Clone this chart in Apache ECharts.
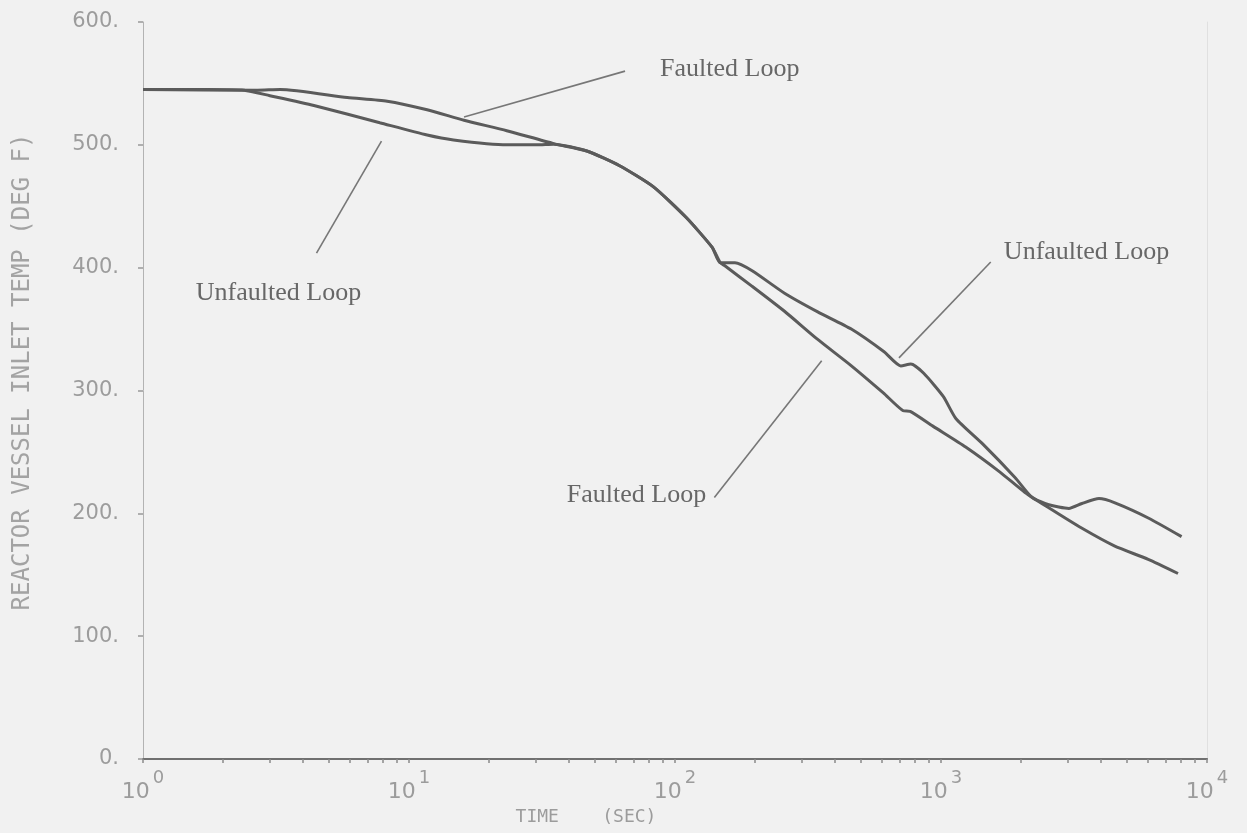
<!DOCTYPE html>
<html>
<head>
<meta charset="utf-8">
<script src="https://cdn.jsdelivr.net/npm/echarts@6/dist/echarts.min.js"></script>
<style>
html,body{margin:0;padding:0;background:#f1f1f1;}
#chart{width:1247px;height:833px;}
</style>
</head>
<body>
<div id="chart"></div>
<script>
// ---- data ----
const unfaultedTime = [1, 1.74, 2.4, 3.0, 4.39, 7.77, 11.7, 14.7, 23.3, 30.2, 35.0, 46.6, 61.9, 82.8, 110, 138, 148, 168, 195, 259, 344, 460, 611, 706, 770, 861, 1021, 1139, 1434, 1901, 2198, 2542, 3024, 3388, 3926, 4508, 6040, 8025];
const unfaultedTemp = [545, 545, 544.5, 540, 532, 518, 508, 504, 500, 500, 500.5, 495, 483, 466, 441, 416.5, 404, 404, 397.5, 379, 364, 350, 331.5, 320, 321.5, 314, 295, 277, 256.5, 229, 213, 207, 204, 208, 212, 208.5, 196, 181];

const faultedTime = [1, 2.69, 3.28, 5.86, 8.28, 11.7, 16.1, 23.3, 35.0, 46.6, 61.9, 82.8, 110, 138, 148, 154, 194.5, 258, 342, 458, 607, 721, 766, 932, 1238, 1657, 2069, 2542, 3377, 4483, 6012, 7780];
const faultedTemp = [545, 544.5, 545, 538.5, 535.5, 528.5, 520, 511.5, 501, 495, 483, 466, 441, 416.5, 404, 401.5, 385, 364.5, 342, 320.5, 298, 283.5, 283, 271, 254, 234, 217, 204.5, 188, 173.5, 162.5, 151];

const xDecades = [1, 10, 100, 1000, 10000];
const xMultipliers = [1, 2, 3, 4, 5, 6, 7, 8, 9];
const yTicks = [0, 100, 200, 300, 400, 500, 600];

const annotationText = ['Faulted Loop', 'Unfaulted Loop', 'Unfaulted Loop', 'Faulted Loop'];
const annotationTime = [87.9, 1.58, 1723, 131];
const annotationTemp = [562, 379, 412.6, 214.6];
const leaderFromTime = [16.1, 7.88, 695, 356];
const leaderFromTemp = [522.6, 503, 326.6, 324.2];
const leaderToTime = [64.9, 4.49, 1538, 140.6];
const leaderToTemp = [560, 411.8, 404.6, 212.9];

const xTitle = 'TIME    (SEC)';
const yTitle = 'REACTOR VESSEL INLET TEMP (DEG F)';

// ---- build ----
const pairs = (t, v) => t.map((x, i) => [x, v[i]]);
const xTickValues = [];
xDecades.slice(0, -1).forEach(d => xMultipliers.forEach(m => xTickValues.push(d * m)));
xTickValues.push(xDecades[xDecades.length - 1]);

const gray = '#9c9c9c';
const curveStyle = {color: '#5b5b5b', width: 3};

const leaderData = leaderFromTime.map((t, i) => [
  {coord: [t, leaderFromTemp[i]]},
  {coord: [leaderToTime[i], leaderToTemp[i]]}
]);
const labelData = annotationText.map((txt, i) => ({
  coord: [annotationTime[i], annotationTemp[i]],
  symbol: 'circle',
  symbolSize: 0,
  label: {
    show: true,
    formatter: txt,
    position: i === 3 ? 'left' : 'right',
    distance: 0,
    fontFamily: 'Liberation Serif',
    fontSize: 26,
    color: '#676767'
  }
}));

const chart = echarts.init(document.getElementById('chart'), null, {renderer: 'canvas'});
chart.setOption({
  backgroundColor: '#f1f1f1',
  animation: false,
  grid: {left: 143, right: 40, top: 22, bottom: 74},
  xAxis: [{
    type: 'log',
    logBase: 10,
    min: 1,
    max: 10000,
    name: xTitle,
    nameLocation: 'middle',
    nameGap: 44,
    nameTextStyle: {fontFamily: 'DejaVu Sans Mono', fontSize: 18, color: gray, padding: [0, 178, 0, 0]},
    axisLine: {lineStyle: {color: '#8a8a8a', width: 1.5}},
    axisTick: {show: true, customValues: xTickValues, length: 4, lineStyle: {color: '#8a8a8a', width: 1.5}},
    axisLabel: {
      customValues: xDecades,
      margin: 10,
      formatter: v => '{b|10}{s|' + Math.round(Math.log10(v)) + '}',
      rich: {
        b: {fontFamily: 'DejaVu Sans', fontSize: 22, color: gray, lineHeight: 34, verticalAlign: 'bottom'},
        s: {fontFamily: 'DejaVu Sans', fontSize: 18, color: gray, lineHeight: 18, verticalAlign: 'top', padding: [0, 0, 0, 3]}
      }
    },
    splitLine: {show: false}
  }, {
    type: 'log',
    logBase: 10,
    min: 1,
    max: 10000,
    position: 'top',
    axisLine: {show: true, lineStyle: {color: '#707070', width: 2}},
    axisTick: {show: false},
    axisLabel: {show: false},
    splitLine: {show: false}
  }],
  yAxis: [{
    type: 'value',
    min: yTicks[0],
    max: yTicks[yTicks.length - 1],
    interval: 100,
    name: yTitle,
    nameLocation: 'middle',
    nameGap: 108,
    nameRotate: 90,
    nameTextStyle: {fontFamily: 'DejaVu Sans Mono', fontSize: 24, color: '#a3a3a3', padding: [0, 0, 0, 37]},
    axisLine: {show: true, lineStyle: {color: '#b3b3b3', width: 1}},
    axisTick: {show: true, length: 5, lineStyle: {color: '#999', width: 1.5}},
    axisLabel: {margin: 24, formatter: v => v + '.', fontFamily: 'DejaVu Sans', fontSize: 21, color: gray},
    splitLine: {show: false}
  }, {
    type: 'value',
    min: 0,
    max: 600,
    position: 'right',
    axisLine: {show: true, lineStyle: {color: '#e0e0e0', width: 1}},
    axisTick: {show: false},
    axisLabel: {show: false},
    splitLine: {show: false}
  }],
  series: [{
    name: 'Unfaulted Loop',
    type: 'line',
    data: pairs(unfaultedTime, unfaultedTemp),
    symbol: 'none',
    smooth: 0.2,
    lineStyle: curveStyle,
    markLine: {
      silent: true,
      symbol: ['none', 'none'],
      label: {show: false},
      lineStyle: {color: '#777', width: 1.6, type: 'solid'},
      data: leaderData
    },
    markPoint: {silent: true, data: labelData}
  }, {
    name: 'Faulted Loop',
    type: 'line',
    data: pairs(faultedTime, faultedTemp),
    symbol: 'none',
    smooth: 0.2,
    lineStyle: curveStyle
  }]
});
</script>
</body>
</html>
